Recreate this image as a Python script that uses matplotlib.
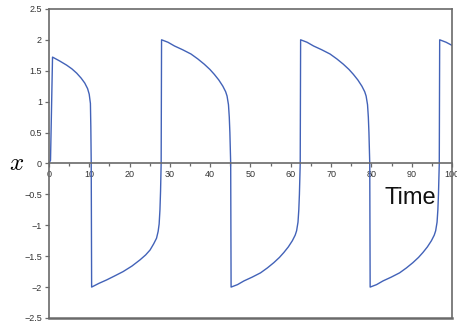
import numpy as np
import matplotlib
matplotlib.use("Agg")
import matplotlib.pyplot as plt
from matplotlib.ticker import MultipleLocator, FuncFormatter

# solution x(t), one list pair per half cycle
t_0 = [0.0, 0.4, 0.9, 2.6, 4.4, 5.7, 6.9, 8.0, 8.9, 9.6, 10.0, 10.3, 10.4, 10.5]
x_0 = [0.0, 0.05, 1.72, 1.66, 1.59, 1.53, 1.46, 1.38, 1.30, 1.21, 1.12, 0.97, 0.6, 0.0]

t_1 = [10.6, 12.4, 14.3, 16.3, 18.4, 20.6, 22.6, 24.0, 25.1, 26.0, 26.7, 27.1, 27.35, 27.55, 27.7, 27.85]
x_1 = [-2.0, -1.94, -1.885, -1.82, -1.75, -1.66, -1.56, -1.48, -1.40, -1.30, -1.21, -1.10, -0.98, -0.75, -0.45, 0.0]

t_2 = [27.95, 29.55, 31.15, 33.15, 35.25, 36.95, 38.55, 39.95, 41.05, 42.15, 43.15, 43.85, 44.2, 44.55, 44.75, 44.9, 45.0, 45.1]
x_2 = [2.0, 1.96, 1.90, 1.84, 1.77, 1.69, 1.605, 1.52, 1.44, 1.35, 1.25, 1.16, 1.09, 0.95, 0.75, 0.5, 0.25, 0.0]

t_3 = [45.2, 46.8, 48.4, 50.4, 52.5, 54.2, 55.8, 57.2, 58.3, 59.4, 60.4, 61.1, 61.45, 61.8, 62.0, 62.15, 62.25, 62.35]
x_3 = [-2.0, -1.96, -1.90, -1.84, -1.77, -1.69, -1.605, -1.52, -1.44, -1.35, -1.25, -1.16, -1.09, -0.95, -0.75, -0.5, -0.25, 0.0]

t_4 = [62.45, 64.05, 65.65, 67.65, 69.75, 71.45, 73.05, 74.45, 75.55, 76.65, 77.65, 78.35, 78.7, 79.05, 79.25, 79.4, 79.5, 79.6]
x_4 = [2.0, 1.96, 1.90, 1.84, 1.77, 1.69, 1.605, 1.52, 1.44, 1.35, 1.25, 1.16, 1.09, 0.95, 0.75, 0.5, 0.25, 0.0]

t_5 = [79.7, 81.3, 82.9, 84.9, 87.0, 88.7, 90.3, 91.7, 92.8, 93.9, 94.9, 95.6, 95.95, 96.3, 96.5, 96.65, 96.75, 96.85]
x_5 = [-2.0, -1.96, -1.90, -1.84, -1.77, -1.69, -1.605, -1.52, -1.44, -1.35, -1.25, -1.16, -1.09, -0.95, -0.75, -0.5, -0.25, 0.0]

t_6 = [96.95, 98.55, 100.0]
x_6 = [2.0, 1.96, 1.91]

t = np.concatenate([t_0, t_1, t_2, t_3, t_4, t_5, t_6])
x = np.concatenate([x_0, x_1, x_2, x_3, x_4, x_5, x_6])

plt.rcParams['mathtext.fontset'] = 'cm'
plt.rcParams['font.family'] = ['Liberation Sans', 'DejaVu Sans']

fig = plt.figure(figsize=(4.57, 3.23), dpi=100)
ax = fig.add_axes([0.107, 0.0155, 0.882, 0.957])

ax.plot(t, x, color='#4262b8', lw=1.0)

ax.set_xlim(0, 100)
ax.set_ylim(-2.5, 2.5)

spine_col = '#6a6a6a'
for s in ax.spines.values():
    s.set_color(spine_col)
    s.set_linewidth(1.2)
# time axis runs through x = 0, box still closed at the bottom
ax.spines['bottom'].set_position(('data', 0))
ax.axhline(-2.5, color=spine_col, lw=1.8, clip_on=False)

ax.xaxis.set_major_locator(MultipleLocator(10))
ax.xaxis.set_minor_locator(MultipleLocator(5))
ax.yaxis.set_major_locator(MultipleLocator(0.5))
ax.yaxis.set_major_formatter(FuncFormatter(lambda v, p: f"{v:g}".replace('-', '\u2212')))
ax.tick_params(axis='both', which='both', direction='out', colors=spine_col,
               labelcolor='#333333', labelsize=6.5, width=0.9)
ax.tick_params(axis='both', which='major', length=3, pad=2)
ax.tick_params(axis='x', which='minor', length=2)

ax.text(-0.08, 0.5, '$x$', transform=ax.transAxes, fontsize=18,
        ha='center', va='center')
ax.text(89.7, -0.56, 'Time', fontsize=17, ha='center', va='center', color='#111111')

fig.savefig('out.png', dpi=100)
